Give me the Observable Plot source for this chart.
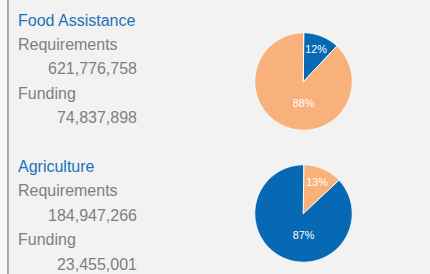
<!DOCTYPE html>
<html><head><meta charset="utf-8">
<script src="https://cdn.jsdelivr.net/npm/d3@7"></script>
<script src="https://cdn.jsdelivr.net/npm/@observablehq/plot@0.6"></script>
<style>
html,body{margin:0;padding:0;background:#f2f2f2;}
#wrap{position:relative;width:430px;height:274px;overflow:hidden;background:#f2f2f2;font-family:"Liberation Sans",Arial,sans-serif;}
#edge{position:absolute;left:0;top:0;width:7px;height:274px;background:#f8f8f8;border-right:2px solid #a8a8a8;}
#text{position:absolute;left:18px;top:8.5px;font-size:16px;line-height:24.4px;white-space:nowrap;}
.title{color:#1a72ba;}
.lab{color:#7f7f7f;}
.num{color:#7f7f7f;width:119px;text-align:right;}
.block + .block{margin-top:24.4px;}
.pie{position:absolute;left:248px;}
</style></head>
<body><div id="wrap"><div id="edge"></div><div id="text"></div></div>
<script>
// ---- data ----
const sectors = ["Food Assistance", "Agriculture"];
const requirementLabel = "Requirements";
const fundingLabel = "Funding";
const requirements = [621776758, 184947266];
const funding = [74837898, 23455001];
const sliceNames = ["first", "second"];
const pieShares = [[12, 88], [13, 87]];

// ---- style ----
const BLUE = "#0768b3", ORANGE = "#f9b17b";
const pieColors = [[BLUE, ORANGE], [ORANGE, BLUE]];
const pieTops = [25.8, 157.5];
const SIZE = 110, R = 48.7, M = SIZE / 2 - R;

const fmt = d3.format(",");
const textDiv = d3.select("#text");
sectors.forEach((s, i) => {
  const b = textDiv.append("div").attr("class", "block");
  b.append("div").attr("class", "title").text(s);
  b.append("div").attr("class", "lab").text(requirementLabel);
  b.append("div").attr("class", "num").text(fmt(requirements[i]));
  b.append("div").attr("class", "lab").text(fundingLabel);
  b.append("div").attr("class", "num").text(fmt(funding[i]));
});

pieShares.forEach((shares, p) => {
  const total = d3.sum(shares);
  let a = 0;
  const marks = [];
  const labels = [];
  shares.forEach((v, i) => {
    const a0 = a, a1 = a + (v / total) * 2 * Math.PI;
    a = a1;
    const pts = [{x: 0, y: 0}];
    const n = Math.max(2, Math.ceil((a1 - a0) / 0.01));
    for (let k = 0; k <= n; k++) {
      const t = a0 + (a1 - a0) * k / n;
      pts.push({x: Math.sin(t), y: Math.cos(t)});
    }
    marks.push(Plot.line(pts, {x: "x", y: "y", curve: "linear-closed", fill: pieColors[p][i], stroke: "white", strokeWidth: 1, strokeLinejoin: "round"}));
    const big = v / total > 0.5;
    const la = big ? Math.PI : (a0 + a1) / 2;
    const lr = big ? 0.46 : 0.7;
    labels.push({x: lr * Math.sin(la), y: lr * Math.cos(la), t: v + "%", s: sliceNames[i]});
  });
  marks.push(Plot.text(labels, {x: "x", y: "y", text: "t", fill: "white", fontSize: 10.8, fontFamily: "Liberation Sans, Arial, sans-serif"}));
  const chart = Plot.plot({
    width: SIZE, height: SIZE,
    marginTop: M, marginBottom: M, marginLeft: M, marginRight: M,
    x: {domain: [-1, 1], axis: null},
    y: {domain: [-1, 1], axis: null},
    style: {background: "transparent", overflow: "visible"},
    marks
  });
  chart.classList.add("pie");
  chart.style.top = pieTops[p] + "px";
  chart.style.left = "248px";
  chart.style.position = "absolute";
  document.getElementById("wrap").appendChild(chart);
});
</script>
</body></html>
